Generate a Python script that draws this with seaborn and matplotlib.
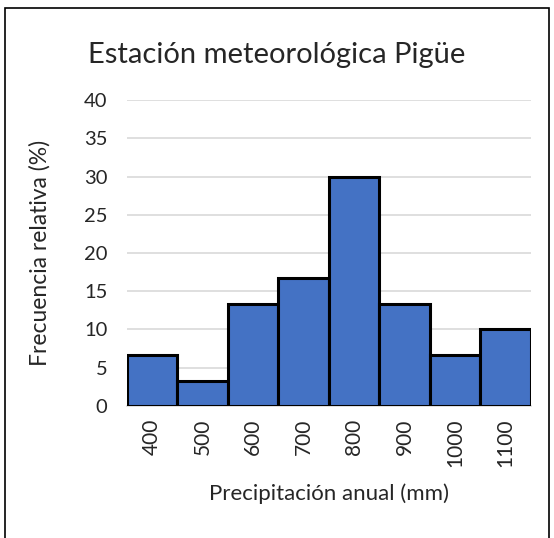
import matplotlib
matplotlib.use("Agg")
import matplotlib.pyplot as plt
import seaborn as sns
import pandas as pd
from matplotlib.patches import Rectangle

categories = ["400", "500", "600", "700", "800", "900", "1000", "1100"]
values = [6.67, 3.33, 13.33, 16.67, 30.0, 13.33, 6.67, 10.0]
yticks = [0, 5, 10, 15, 20, 25, 30, 35, 40]

sns.set_theme(style="white")
plt.rcParams['font.family'] = ['Lato', 'DejaVu Sans']

df = pd.DataFrame({"cat": categories, "val": values})

fig = plt.figure(figsize=(5.54, 5.38), dpi=100)
ax = fig.add_axes([0.229, 0.2454, 0.729, 0.5686])
sns.barplot(data=df, x="cat", y="val", color="#4472C4", saturation=1,
            width=1.0, edgecolor="black", linewidth=2.2, ax=ax, zorder=3)

ax.set_ylim(0, 40)
ax.set_xlim(-0.5, len(categories) - 0.5)
ax.set_yticks(yticks)
ax.set_yticklabels([str(t) for t in yticks], fontsize=14.5)
ax.tick_params(axis='x', labelrotation=90, labelsize=15, length=0, pad=9)
ax.tick_params(axis='y', length=0, pad=14)
ax.yaxis.grid(True, color="#d9d9d9", linewidth=1.2, zorder=0)
ax.set_axisbelow(True)
for s in ["top", "right", "left"]:
    ax.spines[s].set_visible(False)
ax.spines["bottom"].set_color("#d9d9d9")
ax.spines["bottom"].set_linewidth(1.2)

ax.set_xlabel("Precipitación anual (mm)", fontsize=16, labelpad=12)
ax.set_ylabel("Frecuencia relativa (%)", fontsize=16.5, labelpad=24)
fig.text(0.5, 0.897, "Estación meteorológica Pigüe", ha="center", va="center", fontsize=21)

fig.patches.append(Rectangle((0.009, -0.01), 0.982, 0.995, transform=fig.transFigure,
                             fill=False, edgecolor="black", linewidth=1.2))

fig.savefig("out.png", dpi=100)
